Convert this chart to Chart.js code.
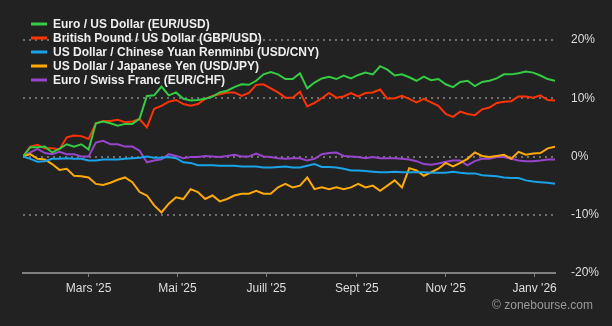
<!DOCTYPE html>
<html>
<head>
<meta charset="utf-8">
<script src="https://cdn.jsdelivr.net/npm/chart.js@4.4.0/dist/chart.umd.min.js"></script>
<style>
  html, body { margin: 0; padding: 0; background: #222222; }
  #wrap { position: relative; width: 612px; height: 326px; }
  #credit { position: absolute; right: 19px; top: 298px; font: 12px "Liberation Sans", Arial, sans-serif; color: #999; }
</style>
</head>
<body>
<div id="wrap">
  <canvas id="fxChart" width="612" height="326"></canvas>
  <div id="credit">© zonebourse.com</div>
</div>
<script>
// days since 15 Jan 2025, one sample every 5 days
const days = [];
for (let d = 0; d <= 365; d += 5) days.push(d);

const monthDays = [45, 106, 167, 229, 290, 351];
const monthLabels = ["Mars '25", "Mai '25", "Juill '25", "Sept '25", "Nov '25", "Janv '26"];
const yTicks = [-20, -10, 0, 10, 20];

const seriesNames = [
  "Euro / US Dollar (EUR/USD)",
  "British Pound / US Dollar (GBP/USD)",
  "US Dollar / Chinese Yuan Renminbi (USD/CNY)",
  "US Dollar / Japanese Yen (USD/JPY)",
  "Euro / Swiss Franc (EUR/CHF)"
];
const seriesColors = ["#33cc44", "#ff3300", "#1aa3e8", "#ffaa00", "#9944cc"];

const eurUsd = [0.0,1.6,1.6,1.7,0.7,1.3,2.1,1.7,2.1,1.2, 5.7,6.0,5.7,5.3,5.6,5.6,6.5,10.4,10.5,12.0,
  10.5,11.0,9.9,9.6,9.7,9.9,10.3,11.0,11.3,11.9, 12.4,12.3,13.0,14.1,14.5,14.1,13.3,13.3,14.3,11.7,
  12.7,13.4,13.7,13.3,13.9,13.4,14.0,14.4,14.1,15.5, 14.9,13.9,14.1,13.6,13.0,13.7,13.1,13.3,12.4,11.9,
  12.8,13.0,12.1,12.8,13.0,13.4,14.1,14.1,14.3,14.6, 14.4,13.9,13.3,13.0];
const gbpUsd = [0.0,1.7,2.0,1.4,1.4,1.2,3.3,3.6,3.5,3.0, 5.7,6.1,6.1,6.3,5.9,6.0,6.4,5.0,8.2,8.7,
  9.4,9.7,9.0,8.7,9.0,9.9,10.4,10.7,11.0,11.0, 10.4,10.9,12.3,12.4,11.7,11.0,10.1,10.1,11.1,8.6,
  9.2,10.0,10.9,10.1,10.3,10.9,10.3,10.9,11.0,11.5, 9.9,10.0,10.4,9.9,9.3,9.9,9.3,8.7,7.3,6.8,
  7.7,7.3,7.1,8.1,8.4,9.2,9.4,9.5,10.3,10.3, 10.1,10.5,9.7,9.6];
const usdCny = [0.0,-0.4,-0.9,-0.8,-0.4,-0.4,-0.3,-0.4,-0.4,-0.7, -0.7,-0.5,-0.5,-0.5,-0.4,-0.3,-0.2,0.0,-0.2,-0.2,
  -0.1,-0.3,-1.0,-1.1,-1.5,-1.5,-1.5,-1.6,-1.6,-1.6, -1.7,-1.7,-1.7,-1.9,-1.9,-1.8,-1.7,-1.9,-1.9,-1.6,
  -1.3,-1.8,-1.8,-1.9,-2.1,-2.4,-2.4,-2.5,-2.6,-2.7, -2.7,-2.6,-2.7,-2.7,-2.7,-2.7,-2.8,-2.8,-2.8,-2.6,
  -2.8,-2.9,-2.9,-3.2,-3.3,-3.4,-3.6,-3.7,-3.7,-4.1, -4.3,-4.4,-4.5,-4.7];
const usdJpy = [0.0,0.4,-0.4,-0.5,-1.3,-2.3,-2.1,-3.3,-3.4,-3.6, -4.7,-4.9,-4.5,-4.0,-3.6,-4.4,-6.1,-6.7,-8.4,-9.6,
  -8.1,-7.0,-7.3,-5.6,-6.1,-7.3,-6.7,-7.7,-7.3,-6.7, -6.4,-6.4,-5.9,-6.4,-6.4,-5.3,-4.7,-5.3,-5.0,-3.6,
  -5.6,-5.3,-5.6,-5.3,-5.6,-5.3,-4.7,-5.3,-5.0,-5.9, -5.0,-4.1,-5.3,-2.0,-2.4,-3.3,-2.7,-2.1,-1.1,-1.7,
  -1.1,-0.4,0.7,0.1,-0.1,0.1,0.3,-0.4,0.8,0.3, 0.5,0.6,1.4,1.7];
const eurChf = [0.0,0.7,1.3,0.6,0.4,0.8,0.4,0.4,0.0,0.0, 2.4,2.7,2.1,2.1,1.7,1.7,1.0,-1.0,-0.7,-0.5,
  0.4,0.1,-0.3,-0.1,-0.1,0.1,0.0,-0.1,0.1,0.3, 0.0,0.0,0.5,0.0,-0.1,-0.3,-0.4,-0.3,-0.3,-0.7,
  -0.4,0.4,0.6,0.7,0.1,0.0,-0.1,-0.3,-0.1,-0.3, -0.3,-0.3,-0.4,-0.5,-0.8,-1.3,-1.4,-1.2,-0.9,-0.7,
  -0.7,-1.5,-0.8,-0.4,-0.4,-0.1,-0.1,-0.4,-0.7,-0.8, -0.8,-0.7,-0.5,-0.5];

const seriesValues = [eurUsd, gbpUsd, usdCny, usdJpy, eurChf];

const datasets = seriesValues.map((vals, i) => ({
  label: seriesNames[i],
  data: vals.map((v, k) => ({ x: days[k], y: v })),
  borderColor: seriesColors[i],
  backgroundColor: seriesColors[i],
  borderWidth: 2,
  pointRadius: 0,
  tension: 0
}));

// legend drawn inside the plot, top left
const legendPlugin = {
  id: "fxLegend",
  afterDraw(chart) {
    const c = chart.ctx;
    c.save();
    c.font = 'bold 12px "Liberation Sans", Arial, sans-serif';
    c.textBaseline = "middle";
    chart.data.datasets.forEach((ds, i) => {
      const y = 24 + i * 14;
      c.strokeStyle = ds.borderColor;
      c.lineWidth = 3;
      c.beginPath();
      c.moveTo(31, y);
      c.lineTo(47, y);
      c.stroke();
      c.fillStyle = "#eeeeee";
      c.fillText(ds.label, 53, y + 0.5);
    });
    c.restore();
  }
};

const ctx = document.getElementById("fxChart").getContext("2d");
new Chart(ctx, {
  type: "line",
  data: { datasets },
  options: {
    responsive: false,
    animation: false,
    layout: { padding: { left: 23, top: 40, right: 0, bottom: 0 } },
    plugins: { legend: { display: false }, tooltip: { enabled: false } },
    scales: {
      x: {
        type: "linear",
        min: 0,
        max: 365,
        afterBuildTicks: s => { s.ticks = monthDays.map(v => ({ value: v })); },
        afterFit: s => { s.height = 53; },
        ticks: {
          callback: (v, i) => monthLabels[i],
          color: "#dddddd",
          font: { family: '"Liberation Sans", Arial, sans-serif', size: 12 },
          padding: 4,
          maxRotation: 0,
          autoSkip: false
        },
        grid: { drawOnChartArea: false, drawTicks: true, tickLength: 4, color: "#808080" },
        border: { display: true, color: "#808080", width: 2 }
      },
      y: {
        position: "right",
        min: -20,
        max: 20,
        afterBuildTicks: s => { s.ticks = yTicks.map(v => ({ value: v })); },
        afterFit: s => { s.width = 57; },
        ticks: {
          callback: v => v + "%",
          color: "#dddddd",
          font: { family: '"Liberation Sans", Arial, sans-serif', size: 12 },
          padding: 16
        },
        grid: { color: "#6e6e6e", lineWidth: 2, drawTicks: false },
        border: { display: false, dash: [2, 4] }
      }
    }
  },
  plugins: [legendPlugin]
});
</script>
</body>
</html>
